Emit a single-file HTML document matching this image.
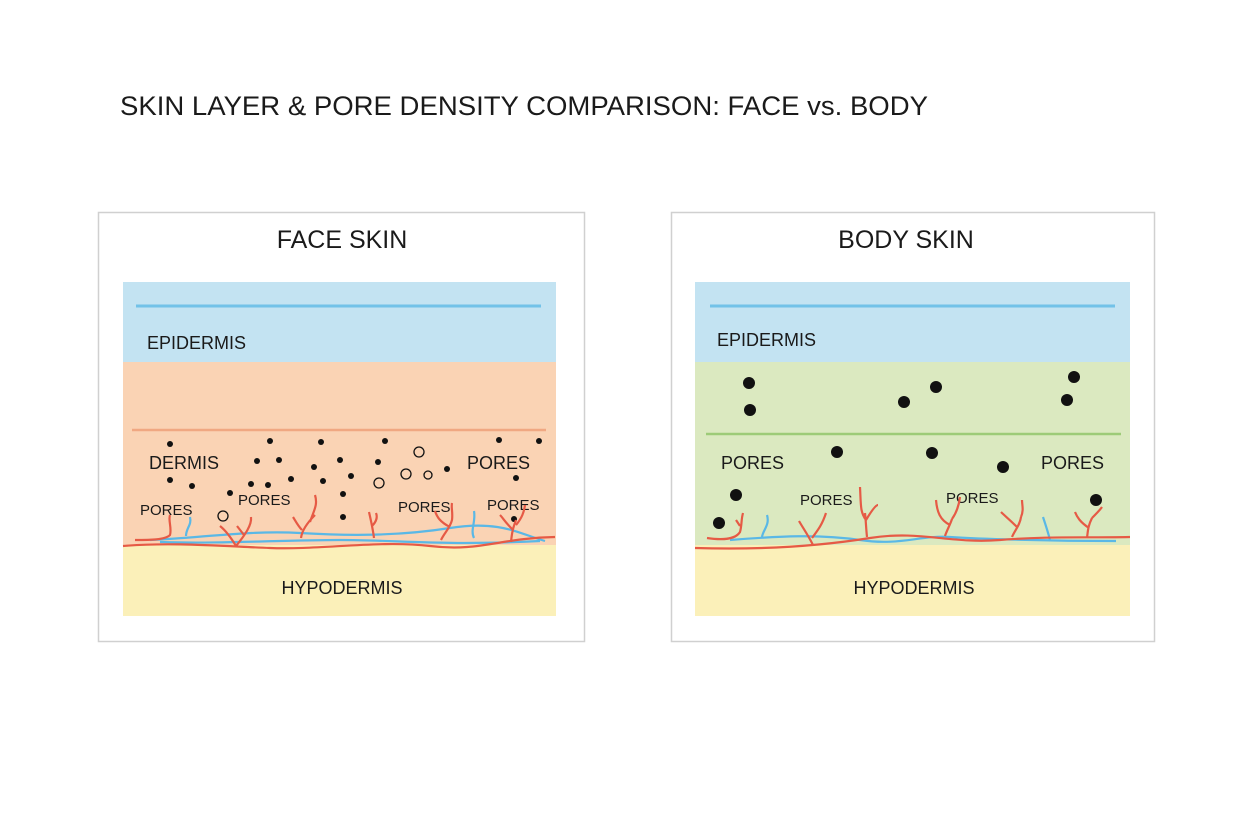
<!DOCTYPE html>
<html><head><meta charset="utf-8"><style>
html,body{margin:0;padding:0;background:#fff;}
svg{display:block;font-family:"Liberation Sans",sans-serif;}
</style></head><body>
<svg width="1248" height="832" viewBox="0 0 1248 832">
<rect width="1248" height="832" fill="#fff"/>
<text x="120" y="115" font-size="27" fill="#1a1a1a" textLength="808" lengthAdjust="spacingAndGlyphs">SKIN LAYER &amp; PORE DENSITY COMPARISON: FACE vs. BODY</text>

<!-- FACE -->
<rect x="98.5" y="212.5" width="486" height="429" fill="#fff" stroke="#d0d0d0" stroke-width="1.5"/>
<text x="342" y="248" font-size="25" text-anchor="middle" fill="#1a1a1a">FACE SKIN</text>
<rect x="123" y="282" width="433" height="80" fill="#c3e3f2"/>
<rect x="123" y="362" width="433" height="185" fill="#fad3b4"/>
<rect x="123" y="545" width="433" height="71" fill="#fbf0b9"/>
<line x1="136" y1="306" x2="541" y2="306" stroke="#72c2e8" stroke-width="3"/>
<line x1="132" y1="430" x2="546" y2="430" stroke="#f0a882" stroke-width="2.5"/>
<text x="147" y="349" font-size="18" fill="#1a1a1a">EPIDERMIS</text>
<text x="149" y="469" font-size="18" fill="#1a1a1a">DERMIS</text>
<text x="467" y="469" font-size="18" fill="#1a1a1a">PORES</text>
<text x="140" y="515" font-size="15" fill="#1a1a1a">PORES</text>
<text x="238" y="505" font-size="15" fill="#1a1a1a">PORES</text>
<text x="398" y="512" font-size="15" fill="#1a1a1a">PORES</text>
<text x="487" y="510" font-size="15" fill="#1a1a1a">PORES</text>
<g fill="#111">
<circle cx="170" cy="444" r="3"/><circle cx="270" cy="441" r="3"/><circle cx="321" cy="442" r="3"/><circle cx="385" cy="441" r="3"/><circle cx="499" cy="440" r="3"/><circle cx="539" cy="441" r="3"/>
<circle cx="257" cy="461" r="3"/><circle cx="279" cy="460" r="3"/><circle cx="340" cy="460" r="3"/><circle cx="314" cy="467" r="3"/><circle cx="378" cy="462" r="3"/><circle cx="447" cy="469" r="3"/>
<circle cx="170" cy="480" r="3"/><circle cx="192" cy="486" r="3"/><circle cx="251" cy="484" r="3"/><circle cx="268" cy="485" r="3"/><circle cx="291" cy="479" r="3"/><circle cx="323" cy="481" r="3"/><circle cx="351" cy="476" r="3"/><circle cx="516" cy="478" r="3"/>
<circle cx="230" cy="493" r="3"/><circle cx="343" cy="494" r="3"/><circle cx="343" cy="517" r="3"/><circle cx="514" cy="519" r="3"/>
</g>
<g fill="none" stroke="#111" stroke-width="1.3">
<circle cx="419" cy="452" r="5"/><circle cx="406" cy="474" r="5"/><circle cx="428" cy="475" r="4"/><circle cx="379" cy="483" r="5"/><circle cx="223" cy="516" r="5"/>
</g>
<g fill="none" stroke="#5ab8e6" stroke-width="2.2">
<path d="M150 540 C200 538 250 530 300 533 S400 536 450 528 S520 534 545 541"/>
<path d="M160 542 C220 544 280 540 340 540 S440 546 540 541"/>
<path d="M186 536 C186 528 192 525 190 517"/>
<path d="M474 538 C470 530 476 522 474 511"/>
</g>
<g fill="none" stroke="#e65a45" stroke-width="2.2">
<path d="M123 546 C170 542 220 546 270 548 S380 540 430 546 S500 538 555 537"/>
<path d="M135 540 C150 540 165 540 170 535 C172 528 168 520 170 515"/>
<path d="M236 546 C230 536 225 530 220 526 M236 546 C245 535 252 525 251 517 M244 535 L237 526"/>
<path d="M301 538 C302 530 308 522 315 515 M302 530 C298 526 295 520 293 517 M310 522 C314 510 318 505 315 495"/>
<path d="M374 538 C373 530 372 525 369 512 M372 526 C376 522 378 518 376 513"/>
<path d="M441 540 C445 532 450 528 452 520 M450 527 C440 522 437 517 435 511 M452 520 C453 512 451 508 452 503"/>
<path d="M511 542 C512 532 513 528 516 520 M513 530 C505 522 503 518 500 515 M516 525 C522 518 524 512 525 505"/>
</g>

<!-- BODY -->
<rect x="671.5" y="212.5" width="483" height="429" fill="#fff" stroke="#d0d0d0" stroke-width="1.5"/>
<text x="906" y="248" font-size="25" text-anchor="middle" fill="#1a1a1a">BODY SKIN</text>
<rect x="695" y="282" width="435" height="80" fill="#c3e3f2"/>
<rect x="695" y="362" width="435" height="185" fill="#dbe9c0"/>
<rect x="695" y="545" width="435" height="71" fill="#fbf0b9"/>
<line x1="710" y1="306" x2="1115" y2="306" stroke="#72c2e8" stroke-width="3"/>
<line x1="706" y1="434" x2="1121" y2="434" stroke="#9dcb78" stroke-width="2.5"/>
<text x="717" y="346" font-size="18" fill="#1a1a1a">EPIDERMIS</text>
<text x="721" y="469" font-size="18" fill="#1a1a1a">PORES</text>
<text x="1041" y="469" font-size="18" fill="#1a1a1a">PORES</text>
<text x="800" y="505" font-size="15" fill="#1a1a1a">PORES</text>
<text x="946" y="503" font-size="15" fill="#1a1a1a">PORES</text>
<g fill="#111">
<circle cx="749" cy="383" r="6"/><circle cx="750" cy="410" r="6"/><circle cx="936" cy="387" r="6"/><circle cx="904" cy="402" r="6"/><circle cx="1074" cy="377" r="6"/><circle cx="1067" cy="400" r="6"/>
<circle cx="837" cy="452" r="6"/><circle cx="932" cy="453" r="6"/><circle cx="1003" cy="467" r="6"/>
<circle cx="736" cy="495" r="6"/><circle cx="719" cy="523" r="6"/><circle cx="1096" cy="500" r="6"/>
</g>
<g fill="none" stroke="#5ab8e6" stroke-width="2.2">
<path d="M730 540 C780 536 820 534 860 540 S920 535 950 537 S1050 541 1116 541"/>
<path d="M762 537 C763 530 770 525 767 515"/>
<path d="M1050 540 C1048 532 1046 526 1043 517"/>
</g>
<g fill="none" stroke="#e65a45" stroke-width="2.2">
<path d="M695 548 C760 550 820 546 870 538 S950 544 1000 540 S1080 538 1130 537"/>
<path d="M707 538 C720 540 735 540 740 532 C742 525 741 520 743 513 M740 526 L736 520"/>
<path d="M813 545 C808 535 803 528 799 521 M812 538 C818 530 822 525 826 513"/>
<path d="M867 537 C866 528 866 522 865 513 M866 520 C860 512 861 505 860 487 M866 520 C872 510 876 505 878 505"/>
<path d="M945 536 C947 530 950 525 952 519 M950 525 C940 520 937 512 936 500 M952 519 C957 512 959 505 960 497"/>
<path d="M1012 537 C1015 530 1020 525 1021 517 M1017 527 C1010 520 1005 516 1001 512 M1021 517 C1024 510 1022 505 1022 500"/>
<path d="M1087 538 C1088 530 1088 526 1092 518 M1089 528 C1080 522 1077 517 1075 512 M1092 518 C1098 512 1100 510 1102 507"/>
</g>
<text x="342" y="594" font-size="18" text-anchor="middle" fill="#1a1a1a">HYPODERMIS</text>
<text x="914" y="594" font-size="18" text-anchor="middle" fill="#1a1a1a">HYPODERMIS</text>
</svg>
</body></html>
